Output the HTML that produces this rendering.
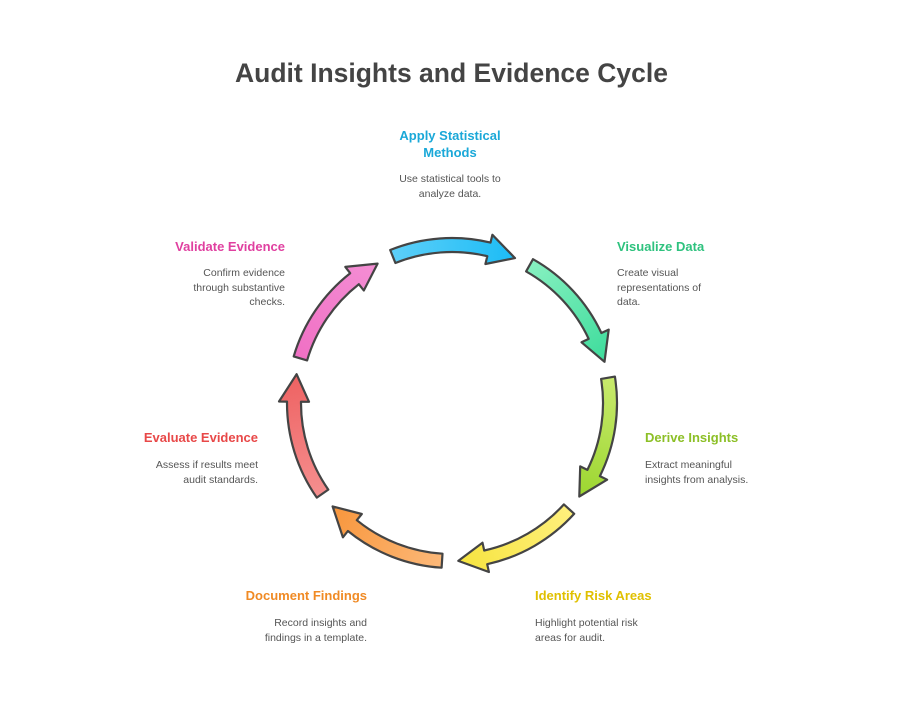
<!DOCTYPE html>
<html><head><meta charset="utf-8"><style>
body{margin:0;background:#fff;width:903px;height:725px;overflow:hidden;font-family:"Liberation Sans",sans-serif}
.t{position:absolute;font-weight:bold;font-size:13px;line-height:17px}
.d{position:absolute;font-size:10.5px;color:#555;line-height:14.5px}
.r{text-align:right}
</style></head><body>
<div style="position:absolute;left:0;width:903px;top:58px;text-align:center;font-size:26.5px;font-weight:bold;color:#444">Audit Insights and Evidence Cycle</div>
<svg id="s" width="903" height="725" style="position:absolute;left:0;top:0"></svg>
<div class="t" style="left:350px;width:200px;top:127px;text-align:center;color:#1aa8d8">Apply Statistical<br>Methods</div>
<div class="d" style="left:350px;width:200px;top:172px;text-align:center">Use statistical tools to<br>analyze data.</div>
<div class="t" style="left:617px;top:238px;color:#2ec27e">Visualize Data</div>
<div class="d" style="left:617px;top:266px">Create visual<br>representations of<br>data.</div>
<div class="t" style="left:645px;top:429px;color:#8cbf26">Derive Insights</div>
<div class="d" style="left:645px;top:458px">Extract meaningful<br>insights from analysis.</div>
<div class="t" style="left:535px;top:587px;color:#e0c000">Identify Risk Areas</div>
<div class="d" style="left:535px;top:616px">Highlight potential risk<br>areas for audit.</div>
<div class="t r" style="right:536px;top:587px;color:#f08a24">Document Findings</div>
<div class="d r" style="right:536px;top:616px">Record insights and<br>findings in a template.</div>
<div class="t r" style="right:645px;top:429px;color:#e84848">Evaluate Evidence</div>
<div class="d r" style="right:645px;top:458px">Assess if results meet<br>audit standards.</div>
<div class="t r" style="right:618px;top:238px;color:#e040a0">Validate Evidence</div>
<div class="d r" style="right:618px;top:266px">Confirm evidence<br>through substantive<br>checks.</div>
<script>
var cx=452,cy=403,R=158,s=document.getElementById('s'),ns='http://www.w3.org/2000/svg';
var cols=[['#1cbcf6','#5ccff8'],['#3edc9c','#86f0c0'],['#9cd630','#c8ea6c'],['#f6e440','#fff07c'],['#f8963c','#fcb878'],['#ee6262','#f58e8e'],['#f48ed4','#f070c4']];
function p(a,r){a=a*Math.PI/180;return (cx+r*Math.cos(a)).toFixed(1)+','+(cy+r*Math.sin(a)).toFixed(1);}
var defs=document.createElementNS(ns,'defs');s.appendChild(defs);var h='';
for(var i=0;i<7;i++){var a1=-112+i*51.4,a2=a1+45.5,ah=a2-10,w=7,W=15;
var c=cols[i],m1=a1*Math.PI/180,m2=a2*Math.PI/180;
h+='<linearGradient id="g'+i+'" gradientUnits="userSpaceOnUse" x1="'+(cx+R*Math.cos(m1))+'" y1="'+(cy+R*Math.sin(m1))+'" x2="'+(cx+R*Math.cos(m2))+'" y2="'+(cy+R*Math.sin(m2))+'"><stop offset="0" stop-color="'+c[1]+'"/><stop offset="1" stop-color="'+c[0]+'"/></linearGradient>';
var d='M'+p(a1,R+w)+' A'+(R+w)+','+(R+w)+' 0 0 1 '+p(ah,R+w)+' L'+p(ah,R+W)+' L'+p(a2,R)+' L'+p(ah,R-W)+' L'+p(ah,R-w)+' A'+(R-w)+','+(R-w)+' 0 0 0 '+p(a1,R-w)+' Z';
var e=document.createElementNS(ns,'path');e.setAttribute('d',d);e.setAttribute('fill','url(#g'+i+')');e.setAttribute('stroke','#444');e.setAttribute('stroke-width','2.2');e.setAttribute('stroke-linejoin','round');s.appendChild(e);}
defs.innerHTML=h;
</script>
</body></html>
